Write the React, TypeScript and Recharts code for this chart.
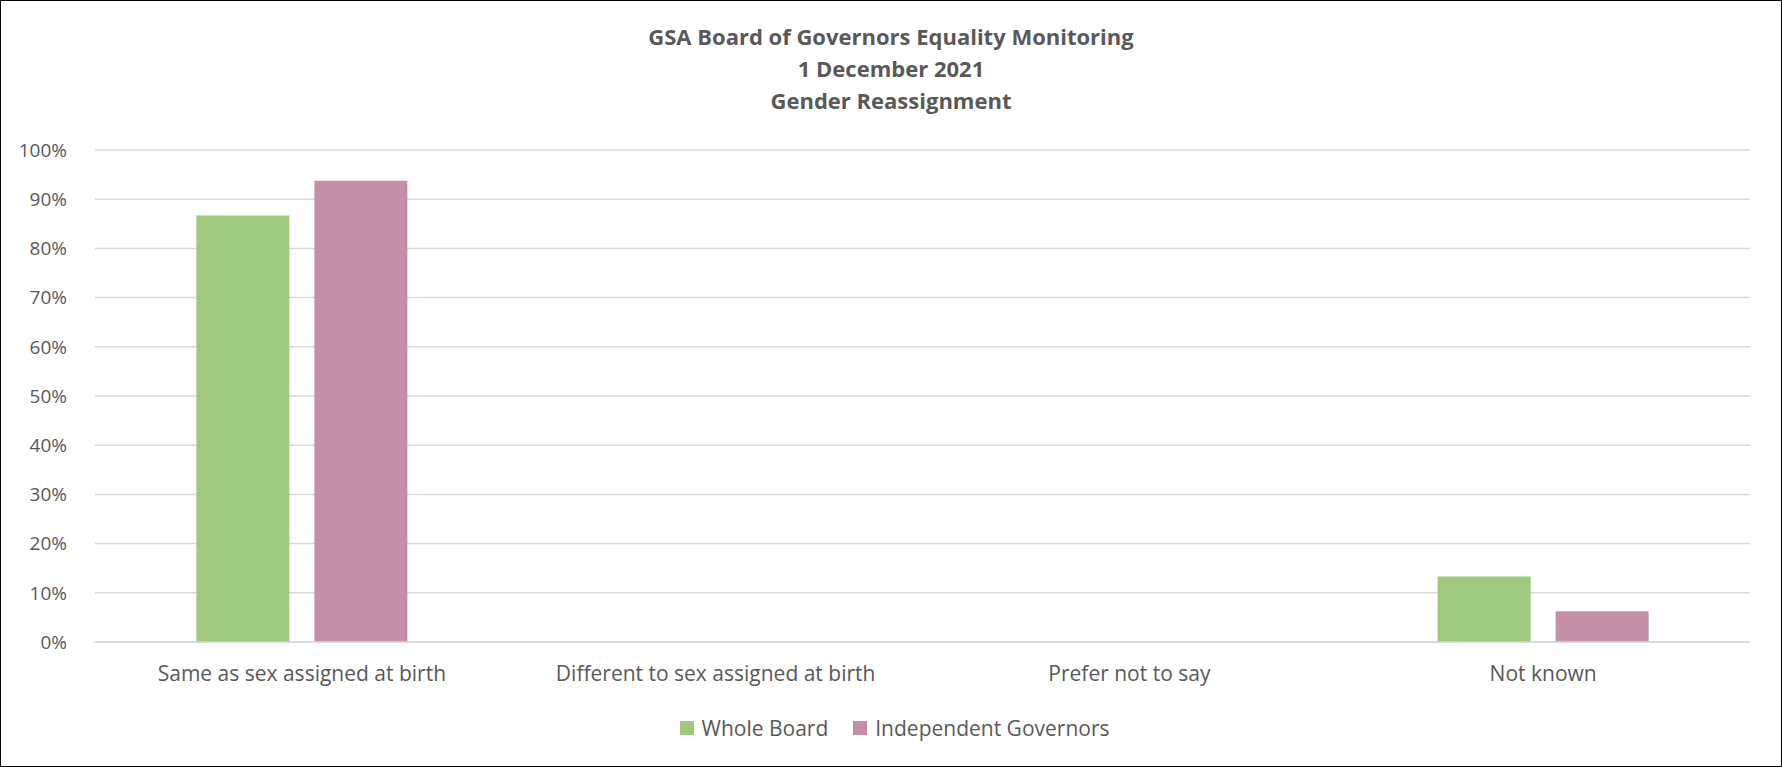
import {
  BarChart,
  Bar,
  XAxis,
  YAxis,
  CartesianGrid,
  Legend,
} from "recharts";

const categories = [
  "Same as sex assigned at birth",
  "Different to sex assigned at birth",
  "Prefer not to say",
  "Not known",
];
const wholeBoard = [0.8667, 0, 0, 0.1333];
const independentGovernors = [0.9375, 0, 0, 0.0625];
const yTicks = [0, 0.1, 0.2, 0.3, 0.4, 0.5, 0.6, 0.7, 0.8, 0.9, 1];
const titleLines = [
  "GSA Board of Governors Equality Monitoring",
  "1 December 2021",
  "Gender Reassignment",
];

const data = categories.map((name, i) => ({
  name,
  whole: wholeBoard[i],
  independent: independentGovernors[i],
}));

const seriesOrder = ["whole", "independent"];

const font = "'Open Sans', 'Noto Sans', sans-serif";
const textColor = "#595959";

function renderLegend(props: any) {
  const items = [...(props.payload || [])].sort(
    (a: any, b: any) =>
      seriesOrder.indexOf(a.dataKey) - seriesOrder.indexOf(b.dataKey)
  );
  return (
    <div
      style={{
        display: "flex",
        justifyContent: "center",
        alignItems: "center",
        gap: 25,
        paddingLeft: 24,
        fontFamily: font,
        fontSize: 21,
        color: textColor,
      }}
    >
      {items.map((item: any) => (
        <div
          key={item.value}
          style={{ display: "flex", alignItems: "center", gap: 8 }}
        >
          <span
            style={{
              width: 14,
              height: 14,
              background: item.color,
              display: "inline-block",
            }}
          />
          <span>{item.value}</span>
        </div>
      ))}
    </div>
  );
}

export default function App() {
  return (
    <div
      style={{
        position: "absolute",
        left: 0,
        top: 0,
        width: 1782,
        height: 767,
        boxSizing: "border-box",
        border: "1px solid #000",
        background: "#fff",
        fontFamily: font,
      }}
    >
      <div
        style={{
          position: "absolute",
          left: 0,
          right: 0,
          top: 19,
          textAlign: "center",
          color: textColor,
          fontWeight: 700,
          fontSize: 22,
          lineHeight: "32px",
        }}
      >
        {titleLines.map((t) => (
          <div key={t}>{t}</div>
        ))}
      </div>
      <BarChart
        width={1780}
        height={765}
        data={data}
        margin={{ top: 149, right: 31, left: 14, bottom: 12 }}
        barGap={25}
        barCategoryGap="24.5%"
      >
        <CartesianGrid
          vertical={false}
          stroke="#d9d9d9"
          strokeWidth={1.5}
        />
        <XAxis
          dataKey="name"
          height={72}
          axisLine={{ stroke: "#d9d9d9", strokeWidth: 1.5 }}
          tickLine={false}
          tickMargin={18}
          tick={{ fill: textColor, fontSize: 21, fontFamily: font }}
        />
        <YAxis
          width={80}
          domain={[0, 1]}
          ticks={yTicks}
          interval={0}
          axisLine={false}
          tickLine={false}
          tickMargin={22}
          tickFormatter={(v: number) => `${Math.round(v * 100)}%`}
          tick={{ fill: textColor, fontSize: 19, fontFamily: font }}
        />
        <Legend verticalAlign="bottom" height={40} content={renderLegend} />
        <Bar
          dataKey="whole"
          name="Whole Board"
          fill="#9ec97f"
          isAnimationActive={false}
        />
        <Bar
          dataKey="independent"
          name="Independent Governors"
          fill="#c490a8"
          isAnimationActive={false}
        />
      </BarChart>
    </div>
  );
}
